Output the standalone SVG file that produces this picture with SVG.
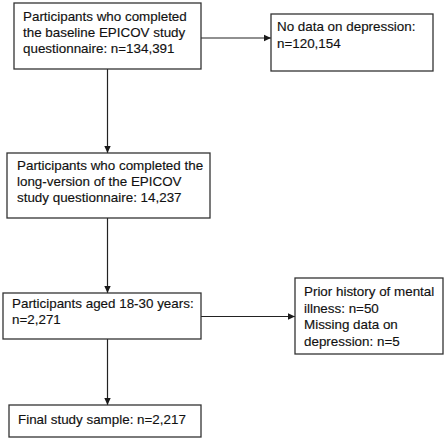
<svg xmlns="http://www.w3.org/2000/svg" width="447" height="440" viewBox="0 0 447 440">
<defs>
<marker id="ah" markerWidth="8" markerHeight="8" refX="7" refY="4" orient="auto" markerUnits="userSpaceOnUse">
<path d="M0,0.8 L7,4 L0,7.2 Z" fill="#1a1a1a"/>
</marker>
</defs>
<style>
.box{fill:#fff;stroke:#333;stroke-width:1.3}
.t{font-family:"Liberation Sans",Arial,sans-serif;font-size:13.4px;fill:#111;stroke:#111;stroke-width:0.15}
.c{stroke:#222;stroke-width:1.2;fill:none}
</style>
<rect width="447" height="440" fill="#fff"/>
<g id="connectors">
<line class="c" x1="201" y1="38" x2="271" y2="38" marker-end="url(#ah)"/>
<line class="c" x1="107.5" y1="69" x2="107.5" y2="153" marker-end="url(#ah)"/>
<line class="c" x1="107.5" y1="218" x2="107.5" y2="293" marker-end="url(#ah)"/>
<line class="c" x1="201" y1="316.5" x2="295" y2="316.5" marker-end="url(#ah)"/>
<line class="c" x1="107.5" y1="339" x2="107.5" y2="405" marker-end="url(#ah)"/>
</g>
<g id="n1">
<rect class="box" x="14" y="3" width="187" height="66"/>
<text class="t" x="23" y="20.5">Participants who completed</text>
<text class="t" x="23" y="36.5">the baseline EPICOV study</text>
<text class="t" x="23" y="52.5">questionnaire: n=134,391</text>
</g>
<g id="n2">
<rect class="box" x="271" y="14" width="162" height="57"/>
<text class="t" x="277" y="31">No data on depression:</text>
<text class="t" x="277" y="47.5">n=120,154</text>
</g>
<g id="n3">
<rect class="box" x="7" y="153" width="203" height="65"/>
<text class="t" x="17" y="170">Participants who completed the</text>
<text class="t" x="17" y="186">long-version of the EPICOV</text>
<text class="t" x="17" y="202">study questionnaire: 14,237</text>
</g>
<g id="n4">
<rect class="box" x="3" y="293" width="198" height="46"/>
<text class="t" x="12" y="308">Participants aged 18-30 years:</text>
<text class="t" x="12" y="324">n=2,271</text>
</g>
<g id="n5">
<rect class="box" x="295" y="278" width="148" height="76"/>
<text class="t" x="304" y="296">Prior history of mental</text>
<text class="t" x="304" y="312.5">illness: n=50</text>
<text class="t" x="304" y="329">Missing data on</text>
<text class="t" x="304" y="345.5">depression: n=5</text>
</g>
<g id="n6">
<rect class="box" x="9" y="405" width="192" height="32"/>
<text class="t" x="18" y="424">Final study sample: n=2,217</text>
</g>
</svg>
